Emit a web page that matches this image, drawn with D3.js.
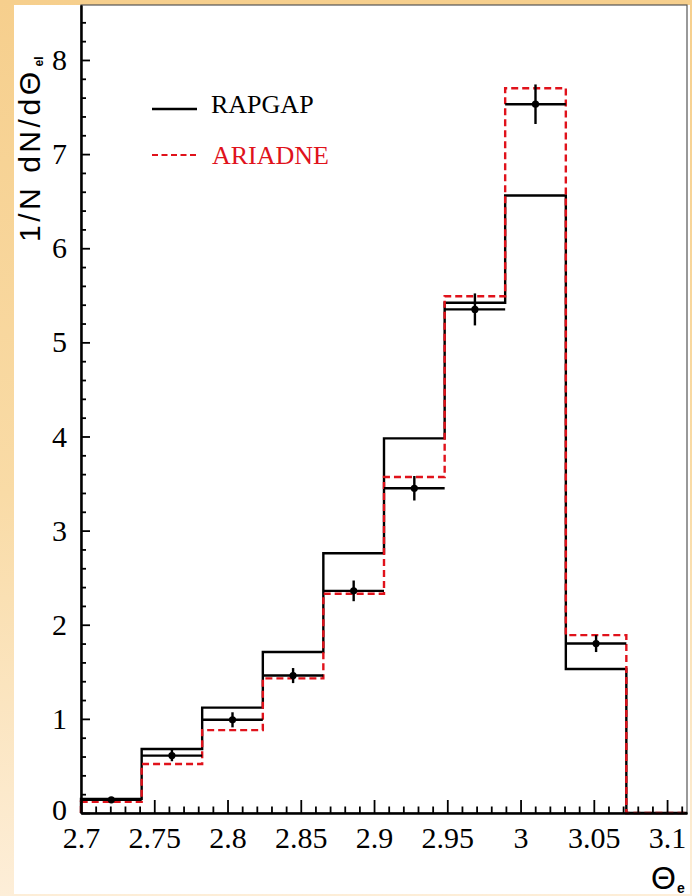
<!DOCTYPE html>
<html>
<head>
<meta charset="utf-8">
<script src="https://cdn.jsdelivr.net/npm/d3@7"></script>
<style>
  html, body { margin: 0; padding: 0; }
  body { width: 692px; height: 896px; overflow: hidden; }
  svg { display: block; }
</style>
</head>
<body>
<svg id="chart" width="692" height="896"></svg>
<script>
// Histogram bin edges in Θ_e (10 equal bins)
const binEdges = [2.7, 2.7414, 2.7827, 2.8241, 2.8654, 2.9068, 2.9482, 2.9895, 3.0309, 3.0722, 3.1136];
// Monte Carlo predictions, 1/N dN/dΘ per bin
const rapgap  = [0.15, 0.68, 1.12, 1.71, 2.76, 3.98, 5.42, 6.56, 1.53, 0];
const ariadne = [0.12, 0.52, 0.88, 1.43, 2.33, 3.57, 5.49, 7.70, 1.89, 0];
// Measured points and their statistical errors
const dataVals = [0.14, 0.61, 0.99, 1.46, 2.36, 3.45, 5.35, 7.53, 1.80];
const dataErrs = [0.03, 0.06, 0.08, 0.08, 0.11, 0.13, 0.17, 0.21, 0.09];
// Axis ticks
const xTickVals = [2.7, 2.75, 2.8, 2.85, 2.9, 2.95, 3.0, 3.05, 3.1];
const xTickLabels = ["2.7", "2.75", "2.8", "2.85", "2.9", "2.95", "3", "3.05", "3.1"];
const yTickVals = [0, 1, 2, 3, 4, 5, 6, 7, 8];
const legendNames = ["RAPGAP", "ARIADNE"];

const svg = d3.select("#chart");
const W = 692, H = 896;
const plot = { left: 81, right: 687, top: 5, bottom: 813 };

// Page background: warm gradient frame with a white canvas
const defs = svg.append("defs");
const grad = defs.append("linearGradient").attr("id", "bg").attr("x1", 0).attr("y1", 0).attr("x2", 0).attr("y2", 1);
grad.append("stop").attr("offset", "0%").attr("stop-color", "#f6cf8d");
grad.append("stop").attr("offset", "55%").attr("stop-color", "#f9dba6");
grad.append("stop").attr("offset", "100%").attr("stop-color", "#fdeed8");
svg.append("rect").attr("width", W).attr("height", H).attr("fill", "url(#bg)");
svg.append("rect").attr("x", 14).attr("y", 5).attr("width", 676).attr("height", 889).attr("fill", "#ffffff");

const x = d3.scaleLinear().domain([2.7, 3.1136]).range([plot.left, plot.right]);
const y = d3.scaleLinear().domain([0, 8.584]).range([plot.bottom, plot.top]);

// Frame
svg.append("rect")
  .attr("x", plot.left).attr("y", plot.top)
  .attr("width", plot.right - plot.left).attr("height", plot.bottom - plot.top)
  .attr("fill", "none").attr("stroke", "#555").attr("stroke-width", 1.2);

// Step outline of a histogram
function stepPoints(vals) {
  const pts = [[binEdges[0], 0]];
  vals.forEach((v, i) => { pts.push([binEdges[i], v]); pts.push([binEdges[i + 1], v]); });
  pts.push([binEdges[binEdges.length - 1], 0]);
  return pts;
}
const line = d3.line().x(d => x(d[0])).y(d => y(d[1]));

svg.append("path").attr("d", line(stepPoints(rapgap)))
  .attr("fill", "none").attr("stroke", "#000").attr("stroke-width", 2.4);

svg.append("path").attr("d", line(stepPoints(ariadne)))
  .attr("fill", "none").attr("stroke", "#e0121b").attr("stroke-width", 2.4)
  .attr("stroke-dasharray", "7,4");

// Data points with error bars
const pts = svg.append("g");
dataVals.forEach((v, i) => {
  const xc = (binEdges[i] + binEdges[i + 1]) / 2;
  pts.append("line")
    .attr("x1", x(binEdges[i])).attr("x2", x(binEdges[i + 1]))
    .attr("y1", y(v)).attr("y2", y(v))
    .attr("stroke", "#000").attr("stroke-width", 2.4);
  pts.append("line")
    .attr("x1", x(xc)).attr("x2", x(xc))
    .attr("y1", y(v - dataErrs[i])).attr("y2", y(v + dataErrs[i]))
    .attr("stroke", "#000").attr("stroke-width", 2.4);
  pts.append("circle").attr("cx", x(xc)).attr("cy", y(v)).attr("r", 3.6).attr("fill", "#000");
});

// Axes (ticks pointing into the plot)
const xAxis = d3.axisBottom(x).tickValues(xTickVals)
  .tickFormat((d, i) => xTickLabels[i]).tickSizeInner(-13).tickSizeOuter(0).tickPadding(14);
const gx = svg.append("g").attr("transform", `translate(0,${plot.bottom})`).call(xAxis);
const xMinor = d3.range(2.70, 3.1136, 0.01).filter(v => Math.abs(v * 20 - Math.round(v * 20)) > 1e-6);
svg.append("g").attr("transform", `translate(0,${plot.bottom})`)
  .call(d3.axisBottom(x).tickValues(xMinor).tickFormat("").tickSizeInner(-6.5).tickSizeOuter(0));

const yAxis = d3.axisLeft(y).tickValues(yTickVals).tickFormat(d3.format("d"))
  .tickSizeInner(-9).tickSizeOuter(0).tickPadding(14);
const gy = svg.append("g").attr("transform", `translate(${plot.left},0)`).call(yAxis);
const yMinor = d3.range(0.2, 8.5, 0.2).filter(v => Math.abs(v - Math.round(v)) > 1e-6);
svg.append("g").attr("transform", `translate(${plot.left},0)`)
  .call(d3.axisLeft(y).tickValues(yMinor).tickFormat("").tickSizeInner(-5).tickSizeOuter(0));

svg.selectAll(".domain").attr("stroke", "#000").attr("stroke-width", 2);
svg.selectAll(".tick line").attr("stroke", "#000").attr("stroke-width", 1.8);
svg.selectAll(".tick text")
  .attr("font-family", "'Liberation Serif', 'Times New Roman', serif")
  .attr("font-size", 30).attr("fill", "#000");
// the zero label sits a little above the axis line
gy.selectAll(".tick").filter(d => d === 0).select("text").attr("dy", "0.2em");

// Axis titles
const yTitle = svg.append("text")
  .attr("transform", "translate(40,242) rotate(-90)")
  .attr("font-family", "'Liberation Sans', Arial, sans-serif")
  .attr("font-size", 30).attr("fill", "#000");
yTitle.append("tspan").attr("textLength", 170).attr("lengthAdjust", "spacing").text("1/N dN/dΘ");
yTitle.append("tspan").attr("dx", 2).attr("dy", 3).attr("font-size", 12).attr("font-weight", "bold").text("el");

const xTitle = svg.append("text")
  .attr("x", 651).attr("y", 889)
  .attr("font-family", "'Liberation Sans', Arial, sans-serif")
  .attr("font-size", 32).attr("fill", "#000");
xTitle.append("tspan").text("Θ");
xTitle.append("tspan").attr("dx", 1).attr("dy", 4).attr("font-size", 14).attr("font-weight", "bold").text("e");

// Legend
const legend = svg.append("g");
legend.append("line").attr("x1", 152).attr("x2", 197).attr("y1", 109).attr("y2", 109)
  .attr("stroke", "#000").attr("stroke-width", 2.4);
legend.append("text").attr("x", 211).attr("y", 113)
  .attr("font-family", "'Liberation Serif', 'Times New Roman', serif")
  .attr("font-size", 26).attr("fill", "#000").text(legendNames[0]);
legend.append("line").attr("x1", 152).attr("x2", 196).attr("y1", 155).attr("y2", 155)
  .attr("stroke", "#e0121b").attr("stroke-width", 2.2).attr("stroke-dasharray", "6,3.5");
legend.append("text").attr("x", 212).attr("y", 164)
  .attr("font-family", "'Liberation Serif', 'Times New Roman', serif")
  .attr("font-size", 26).attr("fill", "#e0121b").text(legendNames[1]);
</script>
</body>
</html>
